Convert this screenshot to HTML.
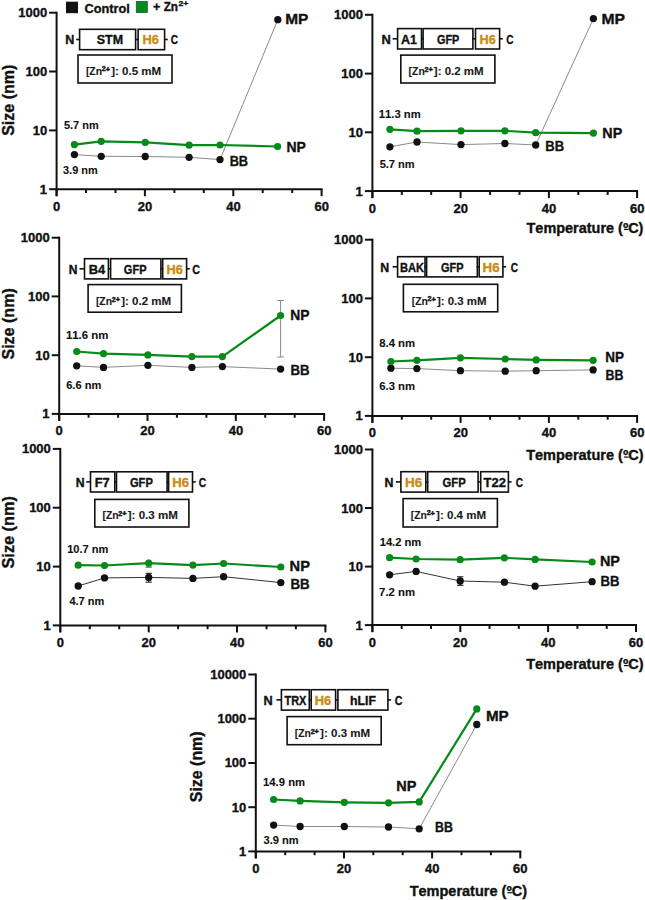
<!DOCTYPE html>
<html><head><meta charset="utf-8"><style>
html,body{margin:0;padding:0;background:#fff;}
svg{display:block;font-family:"Liberation Sans", sans-serif;font-weight:bold;font-kerning:none;}
</style></head><body>
<svg width="645" height="900" viewBox="0 0 645 900">
<line x1="56.6" y1="11.7" x2="56.6" y2="196.2" stroke="#111" stroke-width="2"/>
<line x1="49.1" y1="189.2" x2="56.6" y2="189.2" stroke="#111" stroke-width="2"/>
<text transform="translate(39.73,193.67) scale(1.000,1)" font-size="13" fill="#111" stroke="#111" stroke-width="0.35">1</text>
<line x1="49.1" y1="130.4" x2="56.6" y2="130.4" stroke="#111" stroke-width="2"/>
<text transform="translate(32.67,134.84) scale(1.000,1)" font-size="13" fill="#111" stroke="#111" stroke-width="0.35">10</text>
<line x1="49.1" y1="71.5" x2="56.6" y2="71.5" stroke="#111" stroke-width="2"/>
<text transform="translate(25.44,76.01) scale(1.000,1)" font-size="13" fill="#111" stroke="#111" stroke-width="0.35">100</text>
<line x1="49.1" y1="12.7" x2="56.6" y2="12.7" stroke="#111" stroke-width="2"/>
<text transform="translate(18.21,17.17) scale(1.000,1)" font-size="13" fill="#111" stroke="#111" stroke-width="0.35">1000</text>
<line x1="55.6" y1="189.2" x2="322.6" y2="189.2" stroke="#111" stroke-width="2"/>
<line x1="56.6" y1="189.2" x2="56.6" y2="196.2" stroke="#111" stroke-width="2"/>
<text transform="translate(52.99,210.67) scale(1.000,1)" font-size="13" fill="#111" stroke="#111" stroke-width="0.35">0</text>
<line x1="86.0" y1="189.2" x2="86.0" y2="193.0" stroke="#111" stroke-width="2"/>
<line x1="115.5" y1="189.2" x2="115.5" y2="193.0" stroke="#111" stroke-width="2"/>
<line x1="144.9" y1="189.2" x2="144.9" y2="196.2" stroke="#111" stroke-width="2"/>
<text transform="translate(137.75,210.67) scale(1.000,1)" font-size="13" fill="#111" stroke="#111" stroke-width="0.35">20</text>
<line x1="174.4" y1="189.2" x2="174.4" y2="193.0" stroke="#111" stroke-width="2"/>
<line x1="203.8" y1="189.2" x2="203.8" y2="193.0" stroke="#111" stroke-width="2"/>
<line x1="233.3" y1="189.2" x2="233.3" y2="196.2" stroke="#111" stroke-width="2"/>
<text transform="translate(226.22,210.67) scale(1.000,1)" font-size="13" fill="#111" stroke="#111" stroke-width="0.35">40</text>
<line x1="262.7" y1="189.2" x2="262.7" y2="193.0" stroke="#111" stroke-width="2"/>
<line x1="292.2" y1="189.2" x2="292.2" y2="193.0" stroke="#111" stroke-width="2"/>
<line x1="321.6" y1="189.2" x2="321.6" y2="196.2" stroke="#111" stroke-width="2"/>
<text transform="translate(314.42,210.67) scale(1.000,1)" font-size="13" fill="#111" stroke="#111" stroke-width="0.35">60</text>
<text transform="translate(13.80,135.86) rotate(-90) scale(0.973,1)" font-size="16.5" fill="#111" stroke="#111" stroke-width="0.35">Size (nm)</text>
<text transform="translate(65.36,44.40) scale(1.007,1)" font-size="12.5" fill="#111" stroke="#111" stroke-width="0.35">N</text>
<line x1="76.2" y1="39.5" x2="79.6" y2="39.5" stroke="#111" stroke-width="1.6"/>
<rect x="79.6" y="29.3" width="56.0" height="20.4" fill="none" stroke="#111" stroke-width="1.6"/>
<text transform="translate(96.74,44.40) scale(0.996,1)" font-size="12.5" fill="#111" stroke="#111" stroke-width="0.35">STM</text>
<line x1="135.1" y1="39.5" x2="138.6" y2="39.5" stroke="#111" stroke-width="1.6"/>
<rect x="138.1" y="29.3" width="26.5" height="20.4" fill="none" stroke="#111" stroke-width="1.6"/>
<text transform="translate(142.54,44.40) scale(1.028,1)" font-size="12.5" fill="#cc8c12" stroke="#cc8c12" stroke-width="0.35">H6</text>
<line x1="164.6" y1="39.5" x2="167.8" y2="39.5" stroke="#111" stroke-width="1.6"/>
<text transform="translate(170.69,44.40) scale(0.808,1)" font-size="12.5" fill="#111" stroke="#111" stroke-width="0.35">C</text>
<rect x="78.0" y="55.0" width="94.0" height="28.0" fill="none" stroke="#111" stroke-width="1.6"/>
<text transform="translate(85.92,74.81) scale(0.988,1)" font-size="10.5" fill="#1a1a1a" stroke="#1a1a1a" stroke-width="0.1">[Zn</text>
<text transform="translate(101.76,71.30) scale(1.121,1)" font-size="6.3" fill="#1a1a1a" stroke="#1a1a1a" stroke-width="0.45">2</text>
<text transform="translate(105.69,71.89) scale(1.171,1)" font-size="6.3" fill="#1a1a1a" stroke="#1a1a1a" stroke-width="0.45">+</text>
<text transform="translate(111.16,74.81) scale(1.101,1)" font-size="10.5" fill="#1a1a1a" stroke="#1a1a1a" stroke-width="0.1">]: 0.5 mM</text>
<polyline points="74.4,154.6 101.2,156.3 145.2,156.5 189.1,157.3 220.0,159.6 277.8,19.7" fill="none" stroke="#8a8a8a" stroke-width="1" stroke-linejoin="round"/>
<circle cx="74.4" cy="154.6" r="3.65" fill="#111"/>
<circle cx="101.2" cy="156.3" r="3.65" fill="#111"/>
<circle cx="145.2" cy="156.5" r="3.65" fill="#111"/>
<circle cx="189.1" cy="157.3" r="3.65" fill="#111"/>
<circle cx="220.0" cy="159.6" r="3.65" fill="#111"/>
<circle cx="277.8" cy="19.7" r="3.65" fill="#111"/>
<polyline points="74.4,144.6 101.2,141.3 145.2,142.4 189.1,145.2 220.0,145.0 277.6,146.5" fill="none" stroke="#078a1a" stroke-width="2.2" stroke-linejoin="round"/>
<circle cx="74.4" cy="144.6" r="3.6" fill="#078a1a"/>
<circle cx="101.2" cy="141.3" r="3.6" fill="#078a1a"/>
<circle cx="145.2" cy="142.4" r="3.6" fill="#078a1a"/>
<circle cx="189.1" cy="145.2" r="3.6" fill="#078a1a"/>
<circle cx="220.0" cy="145.0" r="3.6" fill="#078a1a"/>
<circle cx="277.6" cy="146.5" r="3.6" fill="#078a1a"/>
<text transform="translate(63.96,128.58) scale(0.996,1)" font-size="11" fill="#111" stroke="#111" stroke-width="0.1">5.7 nm</text>
<text transform="translate(63.05,173.78) scale(0.994,1)" font-size="11" fill="#111" stroke="#111" stroke-width="0.1">3.9 nm</text>
<text transform="translate(285.17,24.09) scale(1.065,1)" font-size="14.5" fill="#111" stroke="#111" stroke-width="0.35">MP</text>
<text transform="translate(286.47,152.19) scale(0.964,1)" font-size="14.5" fill="#111" stroke="#111" stroke-width="0.35">NP</text>
<text transform="translate(229.65,166.29) scale(0.880,1)" font-size="14.5" fill="#111" stroke="#111" stroke-width="0.35">BB</text>
<line x1="372.4" y1="13.8" x2="372.4" y2="198.1" stroke="#111" stroke-width="2"/>
<line x1="364.9" y1="191.1" x2="372.4" y2="191.1" stroke="#111" stroke-width="2"/>
<text transform="translate(355.53,195.57) scale(1.000,1)" font-size="13" fill="#111" stroke="#111" stroke-width="0.35">1</text>
<line x1="364.9" y1="132.3" x2="372.4" y2="132.3" stroke="#111" stroke-width="2"/>
<text transform="translate(348.47,136.81) scale(1.000,1)" font-size="13" fill="#111" stroke="#111" stroke-width="0.35">10</text>
<line x1="364.9" y1="73.6" x2="372.4" y2="73.6" stroke="#111" stroke-width="2"/>
<text transform="translate(341.24,78.04) scale(1.000,1)" font-size="13" fill="#111" stroke="#111" stroke-width="0.35">100</text>
<line x1="364.9" y1="14.8" x2="372.4" y2="14.8" stroke="#111" stroke-width="2"/>
<text transform="translate(334.01,19.27) scale(1.000,1)" font-size="13" fill="#111" stroke="#111" stroke-width="0.35">1000</text>
<line x1="371.4" y1="191.1" x2="638.1" y2="191.1" stroke="#111" stroke-width="2"/>
<line x1="372.4" y1="191.1" x2="372.4" y2="198.1" stroke="#111" stroke-width="2"/>
<text transform="translate(368.79,212.57) scale(1.000,1)" font-size="13" fill="#111" stroke="#111" stroke-width="0.35">0</text>
<line x1="401.8" y1="191.1" x2="401.8" y2="194.9" stroke="#111" stroke-width="2"/>
<line x1="431.2" y1="191.1" x2="431.2" y2="194.9" stroke="#111" stroke-width="2"/>
<line x1="460.6" y1="191.1" x2="460.6" y2="198.1" stroke="#111" stroke-width="2"/>
<text transform="translate(453.45,212.57) scale(1.000,1)" font-size="13" fill="#111" stroke="#111" stroke-width="0.35">20</text>
<line x1="490.1" y1="191.1" x2="490.1" y2="194.9" stroke="#111" stroke-width="2"/>
<line x1="519.5" y1="191.1" x2="519.5" y2="194.9" stroke="#111" stroke-width="2"/>
<line x1="548.9" y1="191.1" x2="548.9" y2="198.1" stroke="#111" stroke-width="2"/>
<text transform="translate(541.82,212.57) scale(1.000,1)" font-size="13" fill="#111" stroke="#111" stroke-width="0.35">40</text>
<line x1="578.3" y1="191.1" x2="578.3" y2="194.9" stroke="#111" stroke-width="2"/>
<line x1="607.7" y1="191.1" x2="607.7" y2="194.9" stroke="#111" stroke-width="2"/>
<line x1="637.1" y1="191.1" x2="637.1" y2="198.1" stroke="#111" stroke-width="2"/>
<text transform="translate(629.92,212.57) scale(1.000,1)" font-size="13" fill="#111" stroke="#111" stroke-width="0.35">60</text>
<text transform="translate(381.44,44.10) scale(1.034,1)" font-size="12.5" fill="#111" stroke="#111" stroke-width="0.35">N</text>
<line x1="392.6" y1="38.8" x2="397.6" y2="38.8" stroke="#111" stroke-width="1.6"/>
<rect x="397.6" y="28.6" width="23.9" height="20.4" fill="none" stroke="#111" stroke-width="1.6"/>
<text transform="translate(400.99,44.10) scale(0.999,1)" font-size="12.5" fill="#111" stroke="#111" stroke-width="0.35">A1</text>
<line x1="421.0" y1="38.8" x2="423.6" y2="38.8" stroke="#111" stroke-width="1.6"/>
<rect x="423.1" y="28.6" width="49.8" height="20.4" fill="none" stroke="#111" stroke-width="1.6"/>
<text transform="translate(437.05,44.10) scale(0.868,1)" font-size="12.5" fill="#111" stroke="#111" stroke-width="0.35">GFP</text>
<line x1="472.4" y1="38.8" x2="476.0" y2="38.8" stroke="#111" stroke-width="1.6"/>
<rect x="475.5" y="28.6" width="24.1" height="20.4" fill="none" stroke="#111" stroke-width="1.6"/>
<text transform="translate(479.55,44.10) scale(1.014,1)" font-size="12.5" fill="#cc8c12" stroke="#cc8c12" stroke-width="0.35">H6</text>
<line x1="499.6" y1="38.8" x2="502.8" y2="38.8" stroke="#111" stroke-width="1.6"/>
<text transform="translate(506.19,44.10) scale(0.808,1)" font-size="12.5" fill="#111" stroke="#111" stroke-width="0.35">C</text>
<rect x="400.8" y="55.1" width="94.1" height="27.9" fill="none" stroke="#111" stroke-width="1.6"/>
<text transform="translate(408.62,75.41) scale(0.988,1)" font-size="10.5" fill="#1a1a1a" stroke="#1a1a1a" stroke-width="0.1">[Zn</text>
<text transform="translate(424.46,71.90) scale(1.121,1)" font-size="6.3" fill="#1a1a1a" stroke="#1a1a1a" stroke-width="0.45">2</text>
<text transform="translate(428.39,72.49) scale(1.171,1)" font-size="6.3" fill="#1a1a1a" stroke="#1a1a1a" stroke-width="0.45">+</text>
<text transform="translate(433.86,75.41) scale(1.095,1)" font-size="10.5" fill="#1a1a1a" stroke="#1a1a1a" stroke-width="0.1">]: 0.2 mM</text>
<polyline points="389.9,146.8 417.0,142.0 461.0,144.6 504.9,143.5 535.7,145.0 593.4,18.6" fill="none" stroke="#8a8a8a" stroke-width="1" stroke-linejoin="round"/>
<circle cx="389.9" cy="146.8" r="3.65" fill="#111"/>
<circle cx="417.0" cy="142.0" r="3.65" fill="#111"/>
<circle cx="461.0" cy="144.6" r="3.65" fill="#111"/>
<circle cx="504.9" cy="143.5" r="3.65" fill="#111"/>
<circle cx="535.7" cy="145.0" r="3.65" fill="#111"/>
<circle cx="593.4" cy="18.6" r="3.65" fill="#111"/>
<polyline points="389.9,129.3 417.0,131.2 461.0,130.8 504.9,130.8 535.7,132.7 593.4,133.1" fill="none" stroke="#078a1a" stroke-width="2.2" stroke-linejoin="round"/>
<circle cx="389.9" cy="129.3" r="3.6" fill="#078a1a"/>
<circle cx="417.0" cy="131.2" r="3.6" fill="#078a1a"/>
<circle cx="461.0" cy="130.8" r="3.6" fill="#078a1a"/>
<circle cx="504.9" cy="130.8" r="3.6" fill="#078a1a"/>
<circle cx="535.7" cy="132.7" r="3.6" fill="#078a1a"/>
<circle cx="593.4" cy="133.1" r="3.6" fill="#078a1a"/>
<text transform="translate(378.79,117.88) scale(1.023,1)" font-size="11" fill="#111" stroke="#111" stroke-width="0.1">11.3 nm</text>
<text transform="translate(379.66,168.48) scale(1.005,1)" font-size="11" fill="#111" stroke="#111" stroke-width="0.1">5.7 nm</text>
<text transform="translate(601.45,23.59) scale(1.085,1)" font-size="14.5" fill="#111" stroke="#111" stroke-width="0.35">MP</text>
<text transform="translate(602.34,137.99) scale(0.985,1)" font-size="14.5" fill="#111" stroke="#111" stroke-width="0.35">NP</text>
<text transform="translate(545.33,151.39) scale(0.896,1)" font-size="14.5" fill="#111" stroke="#111" stroke-width="0.35">BB</text>
<text transform="translate(526.54,232.62) scale(1.033,1)" font-size="14" fill="#111" stroke="#111" stroke-width="0.35">Temperature (ºC)</text>
<line x1="623.9" y1="229.4" x2="628.6" y2="229.4" stroke="#111" stroke-width="1.2"/>
<line x1="59.2" y1="236.7" x2="59.2" y2="420.9" stroke="#111" stroke-width="2"/>
<line x1="51.7" y1="413.9" x2="59.2" y2="413.9" stroke="#111" stroke-width="2"/>
<text transform="translate(42.33,418.37) scale(1.000,1)" font-size="13" fill="#111" stroke="#111" stroke-width="0.35">1</text>
<line x1="51.7" y1="355.2" x2="59.2" y2="355.2" stroke="#111" stroke-width="2"/>
<text transform="translate(35.27,359.64) scale(1.000,1)" font-size="13" fill="#111" stroke="#111" stroke-width="0.35">10</text>
<line x1="51.7" y1="296.4" x2="59.2" y2="296.4" stroke="#111" stroke-width="2"/>
<text transform="translate(28.04,300.91) scale(1.000,1)" font-size="13" fill="#111" stroke="#111" stroke-width="0.35">100</text>
<line x1="51.7" y1="237.7" x2="59.2" y2="237.7" stroke="#111" stroke-width="2"/>
<text transform="translate(20.81,242.17) scale(1.000,1)" font-size="13" fill="#111" stroke="#111" stroke-width="0.35">1000</text>
<line x1="58.2" y1="413.9" x2="325.1" y2="413.9" stroke="#111" stroke-width="2"/>
<line x1="59.2" y1="413.9" x2="59.2" y2="420.9" stroke="#111" stroke-width="2"/>
<text transform="translate(55.59,435.37) scale(1.000,1)" font-size="13" fill="#111" stroke="#111" stroke-width="0.35">0</text>
<line x1="88.6" y1="413.9" x2="88.6" y2="417.7" stroke="#111" stroke-width="2"/>
<line x1="118.1" y1="413.9" x2="118.1" y2="417.7" stroke="#111" stroke-width="2"/>
<line x1="147.5" y1="413.9" x2="147.5" y2="420.9" stroke="#111" stroke-width="2"/>
<text transform="translate(140.31,435.37) scale(1.000,1)" font-size="13" fill="#111" stroke="#111" stroke-width="0.35">20</text>
<line x1="176.9" y1="413.9" x2="176.9" y2="417.7" stroke="#111" stroke-width="2"/>
<line x1="206.4" y1="413.9" x2="206.4" y2="417.7" stroke="#111" stroke-width="2"/>
<line x1="235.8" y1="413.9" x2="235.8" y2="420.9" stroke="#111" stroke-width="2"/>
<text transform="translate(228.74,435.37) scale(1.000,1)" font-size="13" fill="#111" stroke="#111" stroke-width="0.35">40</text>
<line x1="265.2" y1="413.9" x2="265.2" y2="417.7" stroke="#111" stroke-width="2"/>
<line x1="294.7" y1="413.9" x2="294.7" y2="417.7" stroke="#111" stroke-width="2"/>
<line x1="324.1" y1="413.9" x2="324.1" y2="420.9" stroke="#111" stroke-width="2"/>
<text transform="translate(316.90,435.37) scale(1.000,1)" font-size="13" fill="#111" stroke="#111" stroke-width="0.35">60</text>
<text transform="translate(13.80,359.56) rotate(-90) scale(0.973,1)" font-size="16.5" fill="#111" stroke="#111" stroke-width="0.35">Size (nm)</text>
<text transform="translate(68.79,274.30) scale(0.966,1)" font-size="12.5" fill="#111" stroke="#111" stroke-width="0.35">N</text>
<line x1="79.5" y1="268.8" x2="84.5" y2="268.8" stroke="#111" stroke-width="1.6"/>
<rect x="84.5" y="258.7" width="23.9" height="20.2" fill="none" stroke="#111" stroke-width="1.6"/>
<text transform="translate(88.64,274.30) scale(1.028,1)" font-size="12.5" fill="#111" stroke="#111" stroke-width="0.35">B4</text>
<line x1="107.9" y1="268.8" x2="111.1" y2="268.8" stroke="#111" stroke-width="1.6"/>
<rect x="110.6" y="258.7" width="50.3" height="20.2" fill="none" stroke="#111" stroke-width="1.6"/>
<text transform="translate(123.85,274.30) scale(0.885,1)" font-size="12.5" fill="#111" stroke="#111" stroke-width="0.35">GFP</text>
<line x1="160.4" y1="268.8" x2="163.2" y2="268.8" stroke="#111" stroke-width="1.6"/>
<rect x="162.7" y="258.7" width="23.9" height="20.2" fill="none" stroke="#111" stroke-width="1.6"/>
<text transform="translate(166.44,274.30) scale(1.028,1)" font-size="12.5" fill="#cc8c12" stroke="#cc8c12" stroke-width="0.35">H6</text>
<line x1="186.6" y1="268.8" x2="189.8" y2="268.8" stroke="#111" stroke-width="1.6"/>
<text transform="translate(192.36,274.30) scale(0.857,1)" font-size="12.5" fill="#111" stroke="#111" stroke-width="0.35">C</text>
<rect x="88.1" y="284.6" width="93.3" height="27.6" fill="none" stroke="#111" stroke-width="1.6"/>
<text transform="translate(95.92,305.21) scale(0.988,1)" font-size="10.5" fill="#1a1a1a" stroke="#1a1a1a" stroke-width="0.1">[Zn</text>
<text transform="translate(111.76,301.70) scale(1.121,1)" font-size="6.3" fill="#1a1a1a" stroke="#1a1a1a" stroke-width="0.45">2</text>
<text transform="translate(115.69,302.29) scale(1.171,1)" font-size="6.3" fill="#1a1a1a" stroke="#1a1a1a" stroke-width="0.45">+</text>
<text transform="translate(121.16,305.21) scale(1.099,1)" font-size="10.5" fill="#1a1a1a" stroke="#1a1a1a" stroke-width="0.1">]: 0.2 mM</text>
<line x1="280.6" y1="300.5" x2="280.6" y2="357.0" stroke="#8a8a8a" stroke-width="1"/>
<line x1="277.2" y1="300.5" x2="284.0" y2="300.5" stroke="#8a8a8a" stroke-width="1"/>
<line x1="277.2" y1="357.0" x2="284.0" y2="357.0" stroke="#8a8a8a" stroke-width="1"/>
<polyline points="76.7,365.8 103.5,367.4 147.9,365.3 191.9,367.4 222.4,366.6 280.6,369.1" fill="none" stroke="#8a8a8a" stroke-width="1" stroke-linejoin="round"/>
<circle cx="76.7" cy="365.8" r="3.65" fill="#111"/>
<circle cx="103.5" cy="367.4" r="3.65" fill="#111"/>
<circle cx="147.9" cy="365.3" r="3.65" fill="#111"/>
<circle cx="191.9" cy="367.4" r="3.65" fill="#111"/>
<circle cx="222.4" cy="366.6" r="3.65" fill="#111"/>
<circle cx="280.6" cy="369.1" r="3.65" fill="#111"/>
<polyline points="76.7,351.5 103.5,353.6 147.9,354.9 191.9,356.6 222.4,356.6 280.6,315.5" fill="none" stroke="#078a1a" stroke-width="2.2" stroke-linejoin="round"/>
<circle cx="76.7" cy="351.5" r="3.6" fill="#078a1a"/>
<circle cx="103.5" cy="353.6" r="3.6" fill="#078a1a"/>
<circle cx="147.9" cy="354.9" r="3.6" fill="#078a1a"/>
<circle cx="191.9" cy="356.6" r="3.6" fill="#078a1a"/>
<circle cx="222.4" cy="356.6" r="3.6" fill="#078a1a"/>
<circle cx="280.6" cy="315.5" r="3.6" fill="#078a1a"/>
<text transform="translate(65.88,338.58) scale(1.041,1)" font-size="11" fill="#111" stroke="#111" stroke-width="0.1">11.6 nm</text>
<text transform="translate(66.19,389.18) scale(1.010,1)" font-size="11" fill="#111" stroke="#111" stroke-width="0.1">6.6 nm</text>
<text transform="translate(290.28,320.29) scale(0.953,1)" font-size="14.5" fill="#111" stroke="#111" stroke-width="0.35">NP</text>
<text transform="translate(290.52,375.49) scale(0.911,1)" font-size="14.5" fill="#111" stroke="#111" stroke-width="0.35">BB</text>
<line x1="372.4" y1="238.7" x2="372.4" y2="422.9" stroke="#111" stroke-width="2"/>
<line x1="364.9" y1="415.9" x2="372.4" y2="415.9" stroke="#111" stroke-width="2"/>
<text transform="translate(355.53,420.37) scale(1.000,1)" font-size="13" fill="#111" stroke="#111" stroke-width="0.35">1</text>
<line x1="364.9" y1="357.2" x2="372.4" y2="357.2" stroke="#111" stroke-width="2"/>
<text transform="translate(348.47,361.64) scale(1.000,1)" font-size="13" fill="#111" stroke="#111" stroke-width="0.35">10</text>
<line x1="364.9" y1="298.4" x2="372.4" y2="298.4" stroke="#111" stroke-width="2"/>
<text transform="translate(341.24,302.91) scale(1.000,1)" font-size="13" fill="#111" stroke="#111" stroke-width="0.35">100</text>
<line x1="364.9" y1="239.7" x2="372.4" y2="239.7" stroke="#111" stroke-width="2"/>
<text transform="translate(334.01,244.17) scale(1.000,1)" font-size="13" fill="#111" stroke="#111" stroke-width="0.35">1000</text>
<line x1="371.4" y1="415.9" x2="638.1" y2="415.9" stroke="#111" stroke-width="2"/>
<line x1="372.4" y1="415.9" x2="372.4" y2="422.9" stroke="#111" stroke-width="2"/>
<text transform="translate(368.79,437.37) scale(1.000,1)" font-size="13" fill="#111" stroke="#111" stroke-width="0.35">0</text>
<line x1="401.8" y1="415.9" x2="401.8" y2="419.7" stroke="#111" stroke-width="2"/>
<line x1="431.2" y1="415.9" x2="431.2" y2="419.7" stroke="#111" stroke-width="2"/>
<line x1="460.6" y1="415.9" x2="460.6" y2="422.9" stroke="#111" stroke-width="2"/>
<text transform="translate(453.45,437.37) scale(1.000,1)" font-size="13" fill="#111" stroke="#111" stroke-width="0.35">20</text>
<line x1="490.1" y1="415.9" x2="490.1" y2="419.7" stroke="#111" stroke-width="2"/>
<line x1="519.5" y1="415.9" x2="519.5" y2="419.7" stroke="#111" stroke-width="2"/>
<line x1="548.9" y1="415.9" x2="548.9" y2="422.9" stroke="#111" stroke-width="2"/>
<text transform="translate(541.82,437.37) scale(1.000,1)" font-size="13" fill="#111" stroke="#111" stroke-width="0.35">40</text>
<line x1="578.3" y1="415.9" x2="578.3" y2="419.7" stroke="#111" stroke-width="2"/>
<line x1="607.7" y1="415.9" x2="607.7" y2="419.7" stroke="#111" stroke-width="2"/>
<line x1="637.1" y1="415.9" x2="637.1" y2="422.9" stroke="#111" stroke-width="2"/>
<text transform="translate(629.92,437.37) scale(1.000,1)" font-size="13" fill="#111" stroke="#111" stroke-width="0.35">60</text>
<text transform="translate(380.17,272.00) scale(0.993,1)" font-size="12.5" fill="#111" stroke="#111" stroke-width="0.35">N</text>
<line x1="392.6" y1="266.8" x2="397.6" y2="266.8" stroke="#111" stroke-width="1.6"/>
<rect x="397.6" y="256.7" width="27.4" height="20.2" fill="none" stroke="#111" stroke-width="1.6"/>
<text transform="translate(400.06,272.00) scale(0.888,1)" font-size="12.5" fill="#111" stroke="#111" stroke-width="0.35">BAK</text>
<line x1="424.5" y1="266.8" x2="427.1" y2="266.8" stroke="#111" stroke-width="1.6"/>
<rect x="426.6" y="256.7" width="50.7" height="20.2" fill="none" stroke="#111" stroke-width="1.6"/>
<text transform="translate(441.05,272.00) scale(0.877,1)" font-size="12.5" fill="#111" stroke="#111" stroke-width="0.35">GFP</text>
<line x1="476.8" y1="266.8" x2="479.7" y2="266.8" stroke="#111" stroke-width="1.6"/>
<rect x="479.2" y="256.7" width="23.7" height="20.2" fill="none" stroke="#111" stroke-width="1.6"/>
<text transform="translate(482.51,272.00) scale(1.069,1)" font-size="12.5" fill="#cc8c12" stroke="#cc8c12" stroke-width="0.35">H6</text>
<line x1="502.9" y1="266.8" x2="506.1" y2="266.8" stroke="#111" stroke-width="1.6"/>
<text transform="translate(510.79,272.00) scale(0.808,1)" font-size="12.5" fill="#111" stroke="#111" stroke-width="0.35">C</text>
<rect x="403.4" y="284.3" width="94.3" height="27.5" fill="none" stroke="#111" stroke-width="1.6"/>
<text transform="translate(411.72,304.81) scale(0.988,1)" font-size="10.5" fill="#1a1a1a" stroke="#1a1a1a" stroke-width="0.1">[Zn</text>
<text transform="translate(427.56,301.30) scale(1.121,1)" font-size="6.3" fill="#1a1a1a" stroke="#1a1a1a" stroke-width="0.45">2</text>
<text transform="translate(431.49,301.89) scale(1.171,1)" font-size="6.3" fill="#1a1a1a" stroke="#1a1a1a" stroke-width="0.45">+</text>
<text transform="translate(436.96,304.81) scale(1.090,1)" font-size="10.5" fill="#1a1a1a" stroke="#1a1a1a" stroke-width="0.1">]: 0.3 mM</text>
<polyline points="390.9,368.2 416.9,368.6 460.4,370.7 505.2,371.2 536.2,370.7 593.1,369.9" fill="none" stroke="#8a8a8a" stroke-width="1" stroke-linejoin="round"/>
<circle cx="390.9" cy="368.2" r="3.65" fill="#111"/>
<circle cx="416.9" cy="368.6" r="3.65" fill="#111"/>
<circle cx="460.4" cy="370.7" r="3.65" fill="#111"/>
<circle cx="505.2" cy="371.2" r="3.65" fill="#111"/>
<circle cx="536.2" cy="370.7" r="3.65" fill="#111"/>
<circle cx="593.1" cy="369.9" r="3.65" fill="#111"/>
<polyline points="390.9,361.5 416.9,360.3 460.4,357.8 505.2,359.0 536.2,359.9 593.1,360.3" fill="none" stroke="#078a1a" stroke-width="2.2" stroke-linejoin="round"/>
<circle cx="390.9" cy="361.5" r="3.6" fill="#078a1a"/>
<circle cx="416.9" cy="360.3" r="3.6" fill="#078a1a"/>
<circle cx="460.4" cy="357.8" r="3.6" fill="#078a1a"/>
<circle cx="505.2" cy="359.0" r="3.6" fill="#078a1a"/>
<circle cx="536.2" cy="359.9" r="3.6" fill="#078a1a"/>
<circle cx="593.1" cy="360.3" r="3.6" fill="#078a1a"/>
<text transform="translate(379.24,346.88) scale(1.029,1)" font-size="11" fill="#111" stroke="#111" stroke-width="0.1">8.4 nm</text>
<text transform="translate(379.18,389.58) scale(1.031,1)" font-size="11" fill="#111" stroke="#111" stroke-width="0.1">6.3 nm</text>
<text transform="translate(605.30,362.19) scale(0.932,1)" font-size="14.5" fill="#111" stroke="#111" stroke-width="0.35">NP</text>
<text transform="translate(605.47,379.89) scale(0.854,1)" font-size="14.5" fill="#111" stroke="#111" stroke-width="0.35">BB</text>
<text transform="translate(526.14,460.32) scale(1.037,1)" font-size="14" fill="#111" stroke="#111" stroke-width="0.35">Temperature (ºC)</text>
<line x1="623.9" y1="457.1" x2="628.6" y2="457.1" stroke="#111" stroke-width="1.2"/>
<line x1="60.3" y1="447.9" x2="60.3" y2="632.4" stroke="#111" stroke-width="2"/>
<line x1="52.8" y1="625.4" x2="60.3" y2="625.4" stroke="#111" stroke-width="2"/>
<text transform="translate(43.43,629.87) scale(1.000,1)" font-size="13" fill="#111" stroke="#111" stroke-width="0.35">1</text>
<line x1="52.8" y1="566.6" x2="60.3" y2="566.6" stroke="#111" stroke-width="2"/>
<text transform="translate(36.37,571.04) scale(1.000,1)" font-size="13" fill="#111" stroke="#111" stroke-width="0.35">10</text>
<line x1="52.8" y1="507.7" x2="60.3" y2="507.7" stroke="#111" stroke-width="2"/>
<text transform="translate(29.14,512.21) scale(1.000,1)" font-size="13" fill="#111" stroke="#111" stroke-width="0.35">100</text>
<line x1="52.8" y1="448.9" x2="60.3" y2="448.9" stroke="#111" stroke-width="2"/>
<text transform="translate(21.91,453.37) scale(1.000,1)" font-size="13" fill="#111" stroke="#111" stroke-width="0.35">1000</text>
<line x1="59.3" y1="625.4" x2="326.4" y2="625.4" stroke="#111" stroke-width="2"/>
<line x1="60.3" y1="625.4" x2="60.3" y2="632.4" stroke="#111" stroke-width="2"/>
<text transform="translate(56.69,646.87) scale(1.000,1)" font-size="13" fill="#111" stroke="#111" stroke-width="0.35">0</text>
<line x1="89.8" y1="625.4" x2="89.8" y2="629.2" stroke="#111" stroke-width="2"/>
<line x1="119.2" y1="625.4" x2="119.2" y2="629.2" stroke="#111" stroke-width="2"/>
<line x1="148.7" y1="625.4" x2="148.7" y2="632.4" stroke="#111" stroke-width="2"/>
<text transform="translate(141.47,646.87) scale(1.000,1)" font-size="13" fill="#111" stroke="#111" stroke-width="0.35">20</text>
<line x1="178.1" y1="625.4" x2="178.1" y2="629.2" stroke="#111" stroke-width="2"/>
<line x1="207.6" y1="625.4" x2="207.6" y2="629.2" stroke="#111" stroke-width="2"/>
<line x1="237.0" y1="625.4" x2="237.0" y2="632.4" stroke="#111" stroke-width="2"/>
<text transform="translate(229.96,646.87) scale(1.000,1)" font-size="13" fill="#111" stroke="#111" stroke-width="0.35">40</text>
<line x1="266.5" y1="625.4" x2="266.5" y2="629.2" stroke="#111" stroke-width="2"/>
<line x1="295.9" y1="625.4" x2="295.9" y2="629.2" stroke="#111" stroke-width="2"/>
<line x1="325.4" y1="625.4" x2="325.4" y2="632.4" stroke="#111" stroke-width="2"/>
<text transform="translate(318.18,646.87) scale(1.000,1)" font-size="13" fill="#111" stroke="#111" stroke-width="0.35">60</text>
<text transform="translate(13.80,568.47) rotate(-90) scale(0.986,1)" font-size="16.5" fill="#111" stroke="#111" stroke-width="0.35">Size (nm)</text>
<text transform="translate(75.68,486.50) scale(0.980,1)" font-size="12.5" fill="#111" stroke="#111" stroke-width="0.35">N</text>
<line x1="86.3" y1="481.9" x2="90.5" y2="481.9" stroke="#111" stroke-width="1.6"/>
<rect x="90.5" y="471.8" width="24.3" height="20.2" fill="none" stroke="#111" stroke-width="1.6"/>
<text transform="translate(94.74,486.50) scale(1.023,1)" font-size="12.5" fill="#111" stroke="#111" stroke-width="0.35">F7</text>
<line x1="114.3" y1="481.9" x2="117.0" y2="481.9" stroke="#111" stroke-width="1.6"/>
<rect x="116.5" y="471.8" width="50.6" height="20.2" fill="none" stroke="#111" stroke-width="1.6"/>
<text transform="translate(129.94,486.50) scale(0.893,1)" font-size="12.5" fill="#111" stroke="#111" stroke-width="0.35">GFP</text>
<line x1="166.6" y1="481.9" x2="169.1" y2="481.9" stroke="#111" stroke-width="1.6"/>
<rect x="168.6" y="471.8" width="23.9" height="20.2" fill="none" stroke="#111" stroke-width="1.6"/>
<text transform="translate(172.22,486.50) scale(1.055,1)" font-size="12.5" fill="#cc8c12" stroke="#cc8c12" stroke-width="0.35">H6</text>
<line x1="192.5" y1="481.9" x2="195.7" y2="481.9" stroke="#111" stroke-width="1.6"/>
<text transform="translate(198.78,486.50) scale(0.820,1)" font-size="12.5" fill="#111" stroke="#111" stroke-width="0.35">C</text>
<rect x="94.8" y="499.4" width="94.1" height="27.6" fill="none" stroke="#111" stroke-width="1.6"/>
<text transform="translate(102.52,519.21) scale(0.988,1)" font-size="10.5" fill="#1a1a1a" stroke="#1a1a1a" stroke-width="0.1">[Zn</text>
<text transform="translate(118.36,515.70) scale(1.121,1)" font-size="6.3" fill="#1a1a1a" stroke="#1a1a1a" stroke-width="0.45">2</text>
<text transform="translate(122.29,516.29) scale(1.171,1)" font-size="6.3" fill="#1a1a1a" stroke="#1a1a1a" stroke-width="0.45">+</text>
<text transform="translate(127.76,519.21) scale(1.101,1)" font-size="10.5" fill="#1a1a1a" stroke="#1a1a1a" stroke-width="0.1">]: 0.3 mM</text>
<line x1="148.7" y1="573.3" x2="148.7" y2="582.1" stroke="#111" stroke-width="1"/>
<line x1="145.5" y1="573.3" x2="151.9" y2="573.3" stroke="#111" stroke-width="1"/>
<line x1="145.5" y1="582.1" x2="151.9" y2="582.1" stroke="#111" stroke-width="1"/>
<line x1="148.7" y1="559.5" x2="148.7" y2="567.1" stroke="#063" stroke-width="1"/>
<line x1="145.5" y1="567.1" x2="151.9" y2="567.1" stroke="#063" stroke-width="1"/>
<polyline points="78.2,586.0 104.5,577.9 148.7,577.4 192.9,578.4 223.6,576.7 280.8,582.6" fill="none" stroke="#333" stroke-width="1" stroke-linejoin="round"/>
<circle cx="78.2" cy="586.0" r="3.65" fill="#111"/>
<circle cx="104.5" cy="577.9" r="3.65" fill="#111"/>
<circle cx="148.7" cy="577.4" r="3.65" fill="#111"/>
<circle cx="192.9" cy="578.4" r="3.65" fill="#111"/>
<circle cx="223.6" cy="576.7" r="3.65" fill="#111"/>
<circle cx="280.8" cy="582.6" r="3.65" fill="#111"/>
<polyline points="78.2,565.2 104.5,565.5 148.7,563.2 192.9,565.1 223.6,563.5 280.8,567.0" fill="none" stroke="#078a1a" stroke-width="2.2" stroke-linejoin="round"/>
<circle cx="78.2" cy="565.2" r="3.6" fill="#078a1a"/>
<circle cx="104.5" cy="565.5" r="3.6" fill="#078a1a"/>
<circle cx="148.7" cy="563.2" r="3.6" fill="#078a1a"/>
<circle cx="192.9" cy="565.1" r="3.6" fill="#078a1a"/>
<circle cx="223.6" cy="563.5" r="3.6" fill="#078a1a"/>
<circle cx="280.8" cy="567.0" r="3.6" fill="#078a1a"/>
<text transform="translate(67.20,553.48) scale(1.005,1)" font-size="11" fill="#111" stroke="#111" stroke-width="0.1">10.7 nm</text>
<text transform="translate(69.43,604.98) scale(1.000,1)" font-size="11" fill="#111" stroke="#111" stroke-width="0.1">4.7 nm</text>
<text transform="translate(289.62,570.59) scale(1.012,1)" font-size="14.5" fill="#111" stroke="#111" stroke-width="0.35">NP</text>
<text transform="translate(290.51,588.59) scale(0.916,1)" font-size="14.5" fill="#111" stroke="#111" stroke-width="0.35">BB</text>
<line x1="372.4" y1="448.5" x2="372.4" y2="632.1" stroke="#111" stroke-width="2"/>
<line x1="364.9" y1="625.1" x2="372.4" y2="625.1" stroke="#111" stroke-width="2"/>
<text transform="translate(355.53,629.57) scale(1.000,1)" font-size="13" fill="#111" stroke="#111" stroke-width="0.35">1</text>
<line x1="364.9" y1="566.6" x2="372.4" y2="566.6" stroke="#111" stroke-width="2"/>
<text transform="translate(348.47,571.04) scale(1.000,1)" font-size="13" fill="#111" stroke="#111" stroke-width="0.35">10</text>
<line x1="364.9" y1="508.0" x2="372.4" y2="508.0" stroke="#111" stroke-width="2"/>
<text transform="translate(341.24,512.51) scale(1.000,1)" font-size="13" fill="#111" stroke="#111" stroke-width="0.35">100</text>
<line x1="364.9" y1="449.5" x2="372.4" y2="449.5" stroke="#111" stroke-width="2"/>
<text transform="translate(334.01,453.97) scale(1.000,1)" font-size="13" fill="#111" stroke="#111" stroke-width="0.35">1000</text>
<line x1="371.4" y1="625.1" x2="637.0" y2="625.1" stroke="#111" stroke-width="2"/>
<line x1="372.4" y1="625.1" x2="372.4" y2="632.1" stroke="#111" stroke-width="2"/>
<text transform="translate(368.79,646.57) scale(1.000,1)" font-size="13" fill="#111" stroke="#111" stroke-width="0.35">0</text>
<line x1="401.7" y1="625.1" x2="401.7" y2="628.9" stroke="#111" stroke-width="2"/>
<line x1="431.0" y1="625.1" x2="431.0" y2="628.9" stroke="#111" stroke-width="2"/>
<line x1="460.3" y1="625.1" x2="460.3" y2="632.1" stroke="#111" stroke-width="2"/>
<text transform="translate(453.07,646.57) scale(1.000,1)" font-size="13" fill="#111" stroke="#111" stroke-width="0.35">20</text>
<line x1="489.5" y1="625.1" x2="489.5" y2="628.9" stroke="#111" stroke-width="2"/>
<line x1="518.8" y1="625.1" x2="518.8" y2="628.9" stroke="#111" stroke-width="2"/>
<line x1="548.1" y1="625.1" x2="548.1" y2="632.1" stroke="#111" stroke-width="2"/>
<text transform="translate(541.06,646.57) scale(1.000,1)" font-size="13" fill="#111" stroke="#111" stroke-width="0.35">40</text>
<line x1="577.4" y1="625.1" x2="577.4" y2="628.9" stroke="#111" stroke-width="2"/>
<line x1="606.7" y1="625.1" x2="606.7" y2="628.9" stroke="#111" stroke-width="2"/>
<line x1="636.0" y1="625.1" x2="636.0" y2="632.1" stroke="#111" stroke-width="2"/>
<text transform="translate(628.78,646.57) scale(1.000,1)" font-size="13" fill="#111" stroke="#111" stroke-width="0.35">60</text>
<text transform="translate(384.47,486.80) scale(0.993,1)" font-size="12.5" fill="#111" stroke="#111" stroke-width="0.35">N</text>
<line x1="395.9" y1="481.9" x2="400.9" y2="481.9" stroke="#111" stroke-width="1.6"/>
<rect x="400.9" y="471.7" width="24.9" height="20.4" fill="none" stroke="#111" stroke-width="1.6"/>
<text transform="translate(404.90,486.80) scale(1.082,1)" font-size="12.5" fill="#cc8c12" stroke="#cc8c12" stroke-width="0.35">H6</text>
<line x1="425.3" y1="481.9" x2="428.2" y2="481.9" stroke="#111" stroke-width="1.6"/>
<rect x="427.7" y="471.7" width="50.4" height="20.4" fill="none" stroke="#111" stroke-width="1.6"/>
<text transform="translate(442.54,486.80) scale(0.905,1)" font-size="12.5" fill="#111" stroke="#111" stroke-width="0.35">GFP</text>
<line x1="477.6" y1="481.9" x2="481.2" y2="481.9" stroke="#111" stroke-width="1.6"/>
<rect x="480.7" y="471.7" width="27.7" height="20.4" fill="none" stroke="#111" stroke-width="1.6"/>
<text transform="translate(483.55,486.80) scale(1.038,1)" font-size="12.5" fill="#111" stroke="#111" stroke-width="0.35">T22</text>
<line x1="508.4" y1="481.9" x2="511.6" y2="481.9" stroke="#111" stroke-width="1.6"/>
<text transform="translate(515.79,486.80) scale(0.808,1)" font-size="12.5" fill="#111" stroke="#111" stroke-width="0.35">C</text>
<rect x="403.1" y="498.6" width="94.3" height="28.4" fill="none" stroke="#111" stroke-width="1.6"/>
<text transform="translate(410.82,518.61) scale(0.988,1)" font-size="10.5" fill="#1a1a1a" stroke="#1a1a1a" stroke-width="0.1">[Zn</text>
<text transform="translate(426.66,515.10) scale(1.121,1)" font-size="6.3" fill="#1a1a1a" stroke="#1a1a1a" stroke-width="0.45">2</text>
<text transform="translate(430.59,515.69) scale(1.171,1)" font-size="6.3" fill="#1a1a1a" stroke="#1a1a1a" stroke-width="0.45">+</text>
<text transform="translate(436.06,518.61) scale(1.101,1)" font-size="10.5" fill="#1a1a1a" stroke="#1a1a1a" stroke-width="0.1">]: 0.4 mM</text>
<line x1="460.2" y1="576.8" x2="460.2" y2="585.3" stroke="#111" stroke-width="1"/>
<line x1="457.0" y1="576.8" x2="463.4" y2="576.8" stroke="#111" stroke-width="1"/>
<line x1="457.0" y1="585.3" x2="463.4" y2="585.3" stroke="#111" stroke-width="1"/>
<polyline points="389.6,574.8 416.1,571.4 460.2,581.0 504.4,582.2 535.1,586.2 592.1,581.7" fill="none" stroke="#333" stroke-width="1" stroke-linejoin="round"/>
<circle cx="389.6" cy="574.8" r="3.65" fill="#111"/>
<circle cx="416.1" cy="571.4" r="3.65" fill="#111"/>
<circle cx="460.2" cy="581.0" r="3.65" fill="#111"/>
<circle cx="504.4" cy="582.2" r="3.65" fill="#111"/>
<circle cx="535.1" cy="586.2" r="3.65" fill="#111"/>
<circle cx="592.1" cy="581.7" r="3.65" fill="#111"/>
<polyline points="389.6,557.7 416.1,559.0 460.2,559.7 504.4,557.8 535.1,559.4 592.1,562.0" fill="none" stroke="#078a1a" stroke-width="2.2" stroke-linejoin="round"/>
<circle cx="389.6" cy="557.7" r="3.6" fill="#078a1a"/>
<circle cx="416.1" cy="559.0" r="3.6" fill="#078a1a"/>
<circle cx="460.2" cy="559.7" r="3.6" fill="#078a1a"/>
<circle cx="504.4" cy="557.8" r="3.6" fill="#078a1a"/>
<circle cx="535.1" cy="559.4" r="3.6" fill="#078a1a"/>
<circle cx="592.1" cy="562.0" r="3.6" fill="#078a1a"/>
<text transform="translate(379.70,546.38) scale(1.015,1)" font-size="11" fill="#111" stroke="#111" stroke-width="0.1">14.2 nm</text>
<text transform="translate(379.11,595.78) scale(1.033,1)" font-size="11" fill="#111" stroke="#111" stroke-width="0.1">7.2 nm</text>
<text transform="translate(599.93,566.29) scale(0.996,1)" font-size="14.5" fill="#111" stroke="#111" stroke-width="0.35">NP</text>
<text transform="translate(600.53,585.99) scale(0.901,1)" font-size="14.5" fill="#111" stroke="#111" stroke-width="0.35">BB</text>
<text transform="translate(526.14,668.82) scale(1.037,1)" font-size="14" fill="#111" stroke="#111" stroke-width="0.35">Temperature (ºC)</text>
<line x1="623.9" y1="665.6" x2="628.6" y2="665.6" stroke="#111" stroke-width="1.2"/>
<line x1="255.8" y1="673.5" x2="255.8" y2="858.4" stroke="#111" stroke-width="2"/>
<line x1="248.3" y1="851.4" x2="255.8" y2="851.4" stroke="#111" stroke-width="2"/>
<text transform="translate(238.93,855.87) scale(1.000,1)" font-size="13" fill="#111" stroke="#111" stroke-width="0.35">1</text>
<line x1="248.3" y1="807.2" x2="255.8" y2="807.2" stroke="#111" stroke-width="2"/>
<text transform="translate(231.87,811.65) scale(1.000,1)" font-size="13" fill="#111" stroke="#111" stroke-width="0.35">10</text>
<line x1="248.3" y1="763.0" x2="255.8" y2="763.0" stroke="#111" stroke-width="2"/>
<text transform="translate(224.64,767.42) scale(1.000,1)" font-size="13" fill="#111" stroke="#111" stroke-width="0.35">100</text>
<line x1="248.3" y1="718.7" x2="255.8" y2="718.7" stroke="#111" stroke-width="2"/>
<text transform="translate(217.41,723.20) scale(1.000,1)" font-size="13" fill="#111" stroke="#111" stroke-width="0.35">1000</text>
<line x1="248.3" y1="674.5" x2="255.8" y2="674.5" stroke="#111" stroke-width="2"/>
<text transform="translate(210.18,678.97) scale(1.000,1)" font-size="13" fill="#111" stroke="#111" stroke-width="0.35">10000</text>
<line x1="254.8" y1="851.4" x2="521.3" y2="851.4" stroke="#111" stroke-width="2"/>
<line x1="255.8" y1="851.4" x2="255.8" y2="858.4" stroke="#111" stroke-width="2"/>
<text transform="translate(252.19,872.87) scale(1.000,1)" font-size="13" fill="#111" stroke="#111" stroke-width="0.35">0</text>
<line x1="285.2" y1="851.4" x2="285.2" y2="855.2" stroke="#111" stroke-width="2"/>
<line x1="314.6" y1="851.4" x2="314.6" y2="855.2" stroke="#111" stroke-width="2"/>
<line x1="344.0" y1="851.4" x2="344.0" y2="858.4" stroke="#111" stroke-width="2"/>
<text transform="translate(336.77,872.87) scale(1.000,1)" font-size="13" fill="#111" stroke="#111" stroke-width="0.35">20</text>
<line x1="373.3" y1="851.4" x2="373.3" y2="855.2" stroke="#111" stroke-width="2"/>
<line x1="402.7" y1="851.4" x2="402.7" y2="855.2" stroke="#111" stroke-width="2"/>
<line x1="432.1" y1="851.4" x2="432.1" y2="858.4" stroke="#111" stroke-width="2"/>
<text transform="translate(425.06,872.87) scale(1.000,1)" font-size="13" fill="#111" stroke="#111" stroke-width="0.35">40</text>
<line x1="461.5" y1="851.4" x2="461.5" y2="855.2" stroke="#111" stroke-width="2"/>
<line x1="490.9" y1="851.4" x2="490.9" y2="855.2" stroke="#111" stroke-width="2"/>
<line x1="520.3" y1="851.4" x2="520.3" y2="858.4" stroke="#111" stroke-width="2"/>
<text transform="translate(513.08,872.87) scale(1.000,1)" font-size="13" fill="#111" stroke="#111" stroke-width="0.35">60</text>
<text transform="translate(202.30,802.16) rotate(-90) scale(0.965,1)" font-size="16.5" fill="#111" stroke="#111" stroke-width="0.35">Size (nm)</text>
<text transform="translate(263.55,704.80) scale(1.021,1)" font-size="12.5" fill="#111" stroke="#111" stroke-width="0.35">N</text>
<line x1="276.4" y1="699.9" x2="281.4" y2="699.9" stroke="#111" stroke-width="1.6"/>
<rect x="281.4" y="689.7" width="27.9" height="20.4" fill="none" stroke="#111" stroke-width="1.6"/>
<text transform="translate(284.48,704.80) scale(0.877,1)" font-size="12.5" fill="#111" stroke="#111" stroke-width="0.35">TRX</text>
<line x1="308.8" y1="699.9" x2="311.7" y2="699.9" stroke="#111" stroke-width="1.6"/>
<rect x="311.2" y="689.7" width="24.4" height="20.4" fill="none" stroke="#111" stroke-width="1.6"/>
<text transform="translate(314.63,704.80) scale(1.035,1)" font-size="12.5" fill="#cc8c12" stroke="#cc8c12" stroke-width="0.35">H6</text>
<line x1="335.1" y1="699.9" x2="338.4" y2="699.9" stroke="#111" stroke-width="1.6"/>
<rect x="337.9" y="689.7" width="50.0" height="20.4" fill="none" stroke="#111" stroke-width="1.6"/>
<text transform="translate(350.05,704.80) scale(0.978,1)" font-size="12.5" fill="#111" stroke="#111" stroke-width="0.35">hLIF</text>
<line x1="387.9" y1="699.9" x2="391.1" y2="699.9" stroke="#111" stroke-width="1.6"/>
<text transform="translate(394.66,704.80) scale(0.857,1)" font-size="12.5" fill="#111" stroke="#111" stroke-width="0.35">C</text>
<rect x="287.1" y="716.6" width="94.1" height="28.1" fill="none" stroke="#111" stroke-width="1.6"/>
<text transform="translate(294.82,737.31) scale(0.988,1)" font-size="10.5" fill="#1a1a1a" stroke="#1a1a1a" stroke-width="0.1">[Zn</text>
<text transform="translate(310.66,733.80) scale(1.121,1)" font-size="6.3" fill="#1a1a1a" stroke="#1a1a1a" stroke-width="0.45">2</text>
<text transform="translate(314.59,734.39) scale(1.171,1)" font-size="6.3" fill="#1a1a1a" stroke="#1a1a1a" stroke-width="0.45">+</text>
<text transform="translate(320.06,737.31) scale(1.103,1)" font-size="10.5" fill="#1a1a1a" stroke="#1a1a1a" stroke-width="0.1">]: 0.3 mM</text>
<polyline points="273.6,825.1 300.1,826.5 344.3,826.5 388.5,827.0 419.2,828.8 476.8,724.5" fill="none" stroke="#8a8a8a" stroke-width="1" stroke-linejoin="round"/>
<circle cx="273.6" cy="825.1" r="3.65" fill="#111"/>
<circle cx="300.1" cy="826.5" r="3.65" fill="#111"/>
<circle cx="344.3" cy="826.5" r="3.65" fill="#111"/>
<circle cx="388.5" cy="827.0" r="3.65" fill="#111"/>
<circle cx="419.2" cy="828.8" r="3.65" fill="#111"/>
<circle cx="476.8" cy="724.5" r="3.65" fill="#111"/>
<polyline points="273.6,799.5 300.1,800.9 344.3,802.3 388.5,802.8 419.2,801.9 476.8,708.9" fill="none" stroke="#078a1a" stroke-width="2.2" stroke-linejoin="round"/>
<circle cx="273.6" cy="799.5" r="3.6" fill="#078a1a"/>
<circle cx="300.1" cy="800.9" r="3.6" fill="#078a1a"/>
<circle cx="344.3" cy="802.3" r="3.6" fill="#078a1a"/>
<circle cx="388.5" cy="802.8" r="3.6" fill="#078a1a"/>
<circle cx="419.2" cy="801.9" r="3.6" fill="#078a1a"/>
<circle cx="476.8" cy="708.9" r="3.6" fill="#078a1a"/>
<text transform="translate(263.09,785.68) scale(1.026,1)" font-size="11" fill="#111" stroke="#111" stroke-width="0.1">14.9 nm</text>
<text transform="translate(263.55,843.78) scale(1.006,1)" font-size="11" fill="#111" stroke="#111" stroke-width="0.1">3.9 nm</text>
<text transform="translate(485.88,720.99) scale(1.050,1)" font-size="14.5" fill="#111" stroke="#111" stroke-width="0.35">MP</text>
<text transform="translate(396.33,791.49) scale(1.001,1)" font-size="14.5" fill="#111" stroke="#111" stroke-width="0.35">NP</text>
<text transform="translate(435.08,831.99) scale(0.849,1)" font-size="14.5" fill="#111" stroke="#111" stroke-width="0.35">BB</text>
<text transform="translate(409.64,895.92) scale(1.037,1)" font-size="14" fill="#111" stroke="#111" stroke-width="0.35">Temperature (ºC)</text>
<line x1="507.4" y1="892.7" x2="512.1" y2="892.7" stroke="#111" stroke-width="1.2"/>
<rect x="66" y="1.7" width="12" height="11.5" fill="#111"/>
<text transform="translate(84.48,12.65) scale(1.022,1)" font-size="12.5" fill="#111" stroke="#111" stroke-width="0.35">Control</text>
<rect x="136.3" y="1.4" width="11" height="11" fill="#078a1a" stroke="#063" stroke-width="0.8"/>
<text transform="translate(153.07,11.28) scale(1.047,1)" font-size="12" fill="#111" stroke="#111" stroke-width="0.35">+</text>
<text transform="translate(163.65,11.28) scale(0.981,1)" font-size="12" fill="#111" stroke="#111" stroke-width="0.35">Zn</text>
<text transform="translate(178.39,6.48) scale(1.132,1)" font-size="7.8" fill="#111" stroke="#111" stroke-width="0.35">2+</text>
</svg>
</body></html>
